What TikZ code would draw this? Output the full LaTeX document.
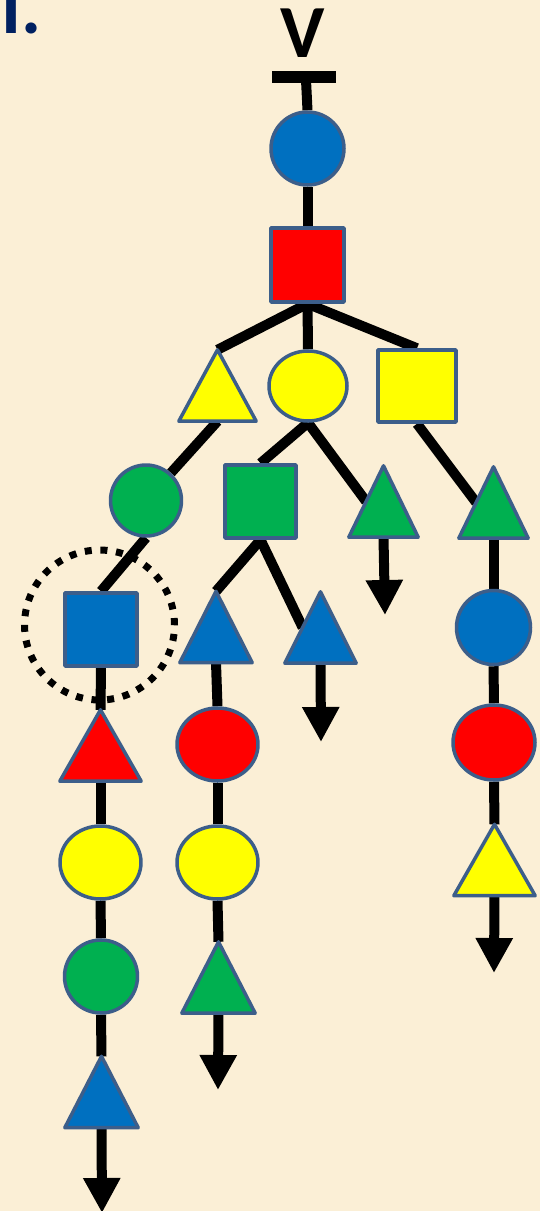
\documentclass[tikz,border=0pt]{standalone}
\usepackage{fontspec}
\setmainfont{Carlito}
\usetikzlibrary{arrows.meta,calc,backgrounds,shapes.geometric}
\definecolor{bg}{RGB}{251,239,214}
\definecolor{edge}{RGB}{60,94,138}
\definecolor{sblue}{RGB}{0,112,192}
\definecolor{sred}{RGB}{255,0,0}
\definecolor{syellow}{RGB}{255,255,0}
\definecolor{sgreen}{RGB}{0,176,80}
\definecolor{navy}{RGB}{0,32,96}
\tikzset{
  shp/.style={draw=edge, line width=3.5pt, line join=round, inner sep=0pt},
  circ/.style={shp, circle},
  ell/.style={shp, ellipse},
  sqr/.style={shp, rectangle},
  tribox/.style={rectangle, inner sep=0pt, minimum height=71pt},
  conn/.style={line width=10pt, black},
  arr/.style={conn, -{Triangle[length=35pt,width=35pt]}},
  bigtext/.style={inner sep=0pt, font=\fontsize{75}{75}\selectfont\bfseries}
}
\newcommand\mytri[4]{%
  \node[tribox, minimum width=#4pt] (#1) at (#2) {};
  \filldraw[shp, fill=#3] (#1.north) -- (#1.south east) -- (#1.south west) -- cycle;}
\begin{document}
\begin{tikzpicture}[x=1pt,y=-1pt]
\useasboundingbox (0,0) rectangle (540,1211);
\begin{scope}[on background layer]
  \fill[bg] (0,0) rectangle (540,1211);
\end{scope}
% texts
\node[bigtext, anchor=base] (v) at (303,57) {V};
\node[bigtext, anchor=base west, text=navy] (i) at (1,33) {I.};
% T bar
\coordinate (tb1) at (272,77);
\coordinate (tb2) at (336,77);
\coordinate (tbm) at (306,80);
% shapes
\node[circ, minimum size=73pt, fill=sblue] (c1) at (307.5,148.5) {};
\node[sqr, minimum width=73pt, minimum height=74pt, fill=sred] (s1) at (307.5,265) {};
\mytri{yt}{217.5,385.5}{syellow}{77}
\node[ell, minimum width=78pt, minimum height=70pt, fill=syellow] (ye) at (308,386) {};
\node[sqr, minimum width=78pt, minimum height=72pt, fill=syellow] (ys) at (417,386) {};
\node[circ, minimum size=71pt, fill=sgreen] (gc) at (146,500.5) {};
\node[sqr, minimum width=71pt, minimum height=73pt, fill=sgreen] (gs) at (260.5,501.5) {};
\mytri{gt1}{383.5,501.5}{sgreen}{69}
\mytri{gt2}{493.5,502.5}{sgreen}{69}
\node[sqr, minimum width=72pt, minimum height=73pt, fill=sblue] (bs) at (101,629.5) {};
\mytri{bt1}{216,627}{sblue}{72}
\mytri{bt2}{320.5,627.5}{sblue}{71}
\node[circ, minimum size=74pt, fill=sblue] (bc) at (493.5,627.5) {};
\mytri{rt}{100.5,745.5}{sred}{81}
\node[ell, minimum width=81pt, minimum height=73pt, fill=sred] (re1) at (217.5,744.5) {};
\node[ell, minimum width=82pt, minimum height=75pt, fill=sred] (re2) at (494,742.5) {};
\node[ell, minimum width=81pt, minimum height=73pt, fill=syellow] (ye2) at (100.5,862.5) {};
\node[ell, minimum width=81pt, minimum height=73pt, fill=syellow] (ye3) at (217.5,862.5) {};
\mytri{yt2}{494.5,860}{syellow}{81}
\node[circ, minimum size=73pt, fill=sgreen] (gc2) at (101,976.5) {};
\mytri{gt3}{218.5,977.5}{sgreen}{73}
\mytri{bt3}{101.5,1092}{sblue}{73}
% free ends of arrows
\coordinate (a1) at (385,615);
\coordinate (a2) at (494,973);
\coordinate (a3) at (102,1213);
\coordinate (a4) at (218,1090);
\coordinate (a5) at (321,742);
\begin{scope}[on background layer]
  \node[draw, circle, minimum size=150pt, line width=7pt, dash pattern=on 7pt off 8.7pt] (ring) at (99.5,625) {};
  \draw[line width=12pt] (tb1) -- (tb2);
  \draw[conn] (tbm) -- (c1.north);
  \draw[conn] (c1.south) -- (s1.north);
  \draw[conn] (s1.south) -- (yt.north);
  \draw[conn] (s1.south) -- (ye.north);
  \draw[conn] (s1.south) -- (ys.north);
  \draw[conn] (yt.south) -- (gc);
  \draw[conn] (ye.south) -- (gs.north);
  \draw[conn] (ye.south) -- ($(gt1.north)!0.5!(gt1.south west)$);
  \draw[conn] (ys.south) -- ($(gt2.north)!0.5!(gt2.south west)$);
  \draw[conn] (gc.south) -- (bs.north);
  \draw[conn] (gs.south) -- (bt1.north);
  \draw[conn] (gs.south) -- ($(bt2.north)!0.5!(bt2.south west)$);
  \draw[arr] (gt1.south) -- (a1);
  \draw[conn] (gt2.south) -- (bc.north);
  \draw[conn] (bc.south) -- (re2.north);
  \draw[conn] (re2.south) -- (yt2.north);
  \draw[arr] (yt2.south) -- (a2);
  \draw[conn] (bs.south) -- (rt.north);
  \draw[conn] (rt.south) -- (ye2.north);
  \draw[conn] (ye2.south) -- (gc2.north);
  \draw[conn] (gc2.south) -- (bt3.north);
  \draw[arr] (bt3.south) -- (a3);
  \draw[conn] (bt1.south) -- (re1.north);
  \draw[conn] (re1.south) -- (ye3.north);
  \draw[conn] (ye3.south) -- (gt3.north);
  \draw[arr] (gt3.south) -- (a4);
  \draw[arr] (bt2.south) -- (a5);
\end{scope}
\end{tikzpicture}
\end{document}
